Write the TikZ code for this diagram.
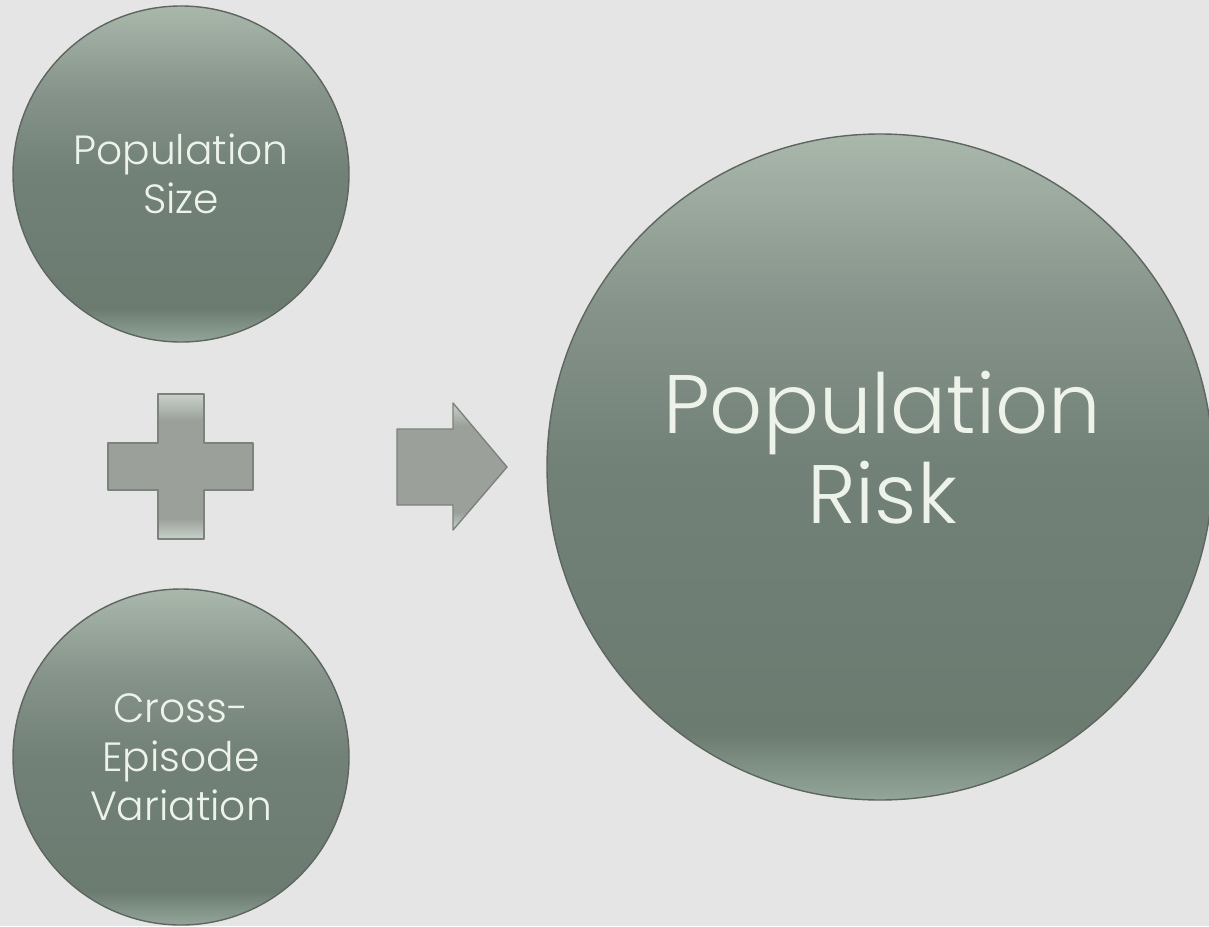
\documentclass[tikz,border=0pt]{standalone}
\usepackage{fontspec}
\IfFontExistsTF{Poppins Light}{\setmainfont{Poppins Light}}{\setmainfont{Poppins}}
\usepackage{tikz}
\usetikzlibrary{positioning}
\definecolor{pr-bg}{HTML}{E5E5E5}
\definecolor{pr-edge}{HTML}{5E6660}
\definecolor{pr-top}{HTML}{AAB7AB}
\definecolor{pr-upper}{HTML}{85938A}
\definecolor{pr-mid}{HTML}{728178}
\definecolor{pr-low}{HTML}{6C7B70}
\definecolor{pr-bot}{HTML}{93A699}
\definecolor{pr-text}{HTML}{EEF3EA}
\definecolor{sg-light}{HTML}{C9D1CB}
\definecolor{sg-fill}{HTML}{9BA19A}
\definecolor{sg-edge}{HTML}{7C827C}
\pgfdeclareverticalshading{discshade}{100bp}{color(0bp)=(pr-bot); color(25bp)=(pr-bot); color(30bp)=(pr-low); color(50bp)=(pr-mid); color(62bp)=(pr-upper); color(75bp)=(pr-top); color(100bp)=(pr-top)}
\pgfdeclareverticalshading{signshade}{100bp}{color(0bp)=(sg-light); color(25bp)=(sg-light); color(32bp)=(sg-fill); color(66bp)=(sg-fill); color(75bp)=(sg-light); color(100bp)=(sg-light)}

\begin{document}
\begin{tikzpicture}[x=0.1mm,y=-0.1mm,
    disc/.style={circle,inner sep=0pt,outer sep=0pt,shading=discshade,draw=pr-edge,line width=0.4pt},
    smalldisc/.style={disc,minimum size=33.6mm,text=pr-text,align=center,font=\fontsize{11.6}{14}\selectfont},
    bigdisc/.style={disc,minimum size=66.6mm},
    bigtxt/.style={text=pr-text,align=center,font=\fontsize{23.6}{25.6}\selectfont},
    sign/.style={shading=signshade,draw=sg-edge,line width=0.4pt,line join=round}]
  \useasboundingbox (0,0) rectangle (1209,926);
  \fill[pr-bg] (0,0) rectangle (1209,926);
  \node[smalldisc] (size) at (181,174) {Population\\Size};
  \node[smalldisc] (variation) at (181,757) {Cross-\\Episode\\Variation};
  \node[bigdisc] (risk) at (880,467) {};
  \node[bigtxt] (risklbl) at (882,448) {Population\\Risk};
  \draw[sign] (158,394) -- (204,394) -- (204,443) -- (253,443) -- (253,490) -- (204,490)
    -- (204,539) -- (158,539) -- (158,490) -- (108,490) -- (108,443) -- (158,443) -- cycle;
  \draw[sign] (397,429) -- (453,429) -- (453,403) -- (507,467) -- (453,530) -- (453,505)
    -- (397,505) -- cycle;
\end{tikzpicture}
\end{document}
